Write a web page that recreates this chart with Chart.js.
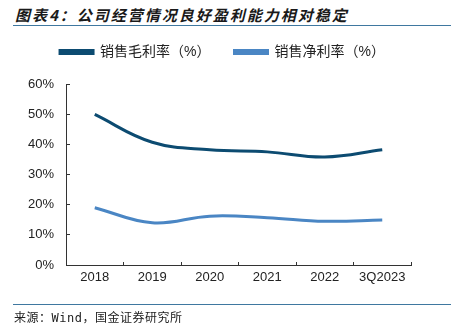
<!DOCTYPE html>
<html>
<head>
<meta charset="utf-8">
<script src="https://cdn.jsdelivr.net/npm/chart.js@4.4.0/dist/chart.umd.min.js"></script>
<style>
  html, body { margin: 0; padding: 0; background: #fff; }
  #wrap { position: relative; width: 451px; height: 329px; overflow: hidden; }
  #title {
    position: absolute; left: 15px; top: 4px;
    font: italic bold 15px "Noto Sans CJK SC", sans-serif;
    letter-spacing: 2px; color: #1a1a1a; white-space: nowrap;
  }
  .rule { position: absolute; left: 13px; right: 0; height: 1px; background: #3f78a0; }
  #source {
    position: absolute; left: 14px; top: 308px;
    font: 12px "DejaVu Sans Mono", "Noto Sans CJK SC", monospace;
    letter-spacing: 0.5px; color: #222; white-space: nowrap;
  }
  #chartBox { position: absolute; left: 0; top: 0; width: 451px; height: 329px; }
</style>
</head>
<body>
<div id="wrap">
  <div id="title">图表4：公司经营情况良好盈利能力相对稳定</div>
  <div class="rule" style="top:25px"></div>
  <div id="chartBox"><canvas id="c" width="451" height="329"></canvas></div>
  <div class="rule" style="top:304px"></div>
  <div id="source">来源：Wind，国金证券研究所</div>
</div>
<script>
// data
const years = ['2018', '2019', '2020', '2021', '2022', '3Q2023'];
const grossMargin = [49.9, 40.7, 38.2, 37.5, 35.8, 38.2];
const netMargin = [19.0, 14.0, 16.2, 15.7, 14.5, 14.9];
const yTicks = [0, 10, 20, 30, 40, 50, 60];

const fontStack = '"Liberation Sans", "Noto Sans CJK SC", sans-serif';

// adds empty space under the legend
const legendGap = {
    id: 'legendGap',
    beforeLayout(chart) {
        const lg = chart.legend;
        if (!lg || lg._gapped) return;
        const fit = lg.fit.bind(lg);
        lg.fit = function () { fit(); this.height += 15; };
        lg._gapped = true;
    }
};

new Chart(document.getElementById('c'), {
    type: 'line',
    data: {
        labels: years,
        datasets: [{
            label: '销售毛利率（%）',
            data: grossMargin,
            borderColor: '#0c4b71',
            backgroundColor: '#0c4b71',
            borderWidth: 3,
            tension: 0.4,
            pointRadius: 0
        }, {
            label: '销售净利率（%）',
            data: netMargin,
            borderColor: '#4a86c4',
            backgroundColor: '#4a86c4',
            borderWidth: 3,
            tension: 0.4,
            pointRadius: 0
        }]
    },
    plugins: [legendGap],
    options: {
        responsive: false,
        animation: false,
        layout: { padding: { top: 21, right: 6, bottom: 42, left: 0 } },
        plugins: {
            legend: {
                position: 'top',
                labels: {
                    boxWidth: 33,
                    boxHeight: 3,
                    padding: 24,
                    color: '#222',
                    font: { family: fontStack, size: 14 }
                }
            },
            tooltip: { enabled: false }
        },
        scales: {
            x: {
                offset: true,
                grid: { drawOnChartArea: false, drawTicks: true, tickLength: -3, color: '#333', offset: true },
                border: { color: '#333', width: 1 },
                ticks: { color: '#222', font: { family: fontStack, size: 13 }, padding: 8, maxRotation: 0 },
                afterFit: s => { s.height = 22; s.paddingRight = 40; }
            },
            y: {
                min: 0,
                max: 60,
                afterBuildTicks: s => { s.ticks = yTicks.map(v => ({ value: v })); },
                grid: { drawOnChartArea: false, drawTicks: true, tickLength: -4, color: '#333' },
                border: { color: '#333', width: 1 },
                ticks: {
                    color: '#222',
                    font: { family: fontStack, size: 13 },
                    padding: 16,
                    callback: v => v + '%'
                },
                afterFit: s => { s.width = 66; }
            }
        }
    }
});
</script>
</body>
</html>
